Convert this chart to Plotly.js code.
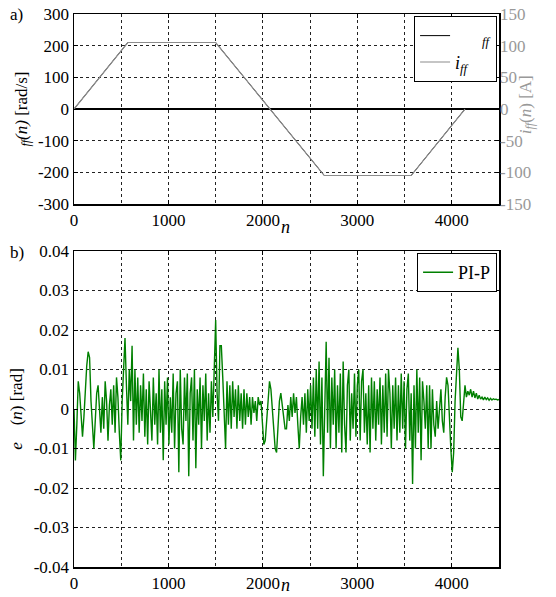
<!DOCTYPE html>
<html>
<head>
<meta charset="utf-8">
<script src="https://cdn.plot.ly/plotly-3.0.1.min.js"></script>
<style>html,body{margin:0;padding:0;background:#fff;}#chart{width:556px;height:597px;}</style>
</head>
<body>
<div id="chart"></div>
<script>
// ---- top panel (a) ----
const n_ref = [0, 570, 1500, 2650, 3570, 4140];
const omega_ff = [0, 210, 210, -210, -210, 0];      // rad/s
const i_ff = [0, 105, 105, -105, -105, 0];           // A

const yLeftTicks = [-300, -200, -100, 0, 100, 200, 300];
const yLeftText = ["-300", "-200", "-100", "0", "100", "200", "300"];
const yRightTicks = [-150, -100, -50, 0, 50, 100, 150];
const yRightText = ["-150", "-100", "-50", "0", "50", "100", "150"];

// ---- bottom panel (b) ----
const e_step = 15;   // samples between listed values
const e_PIP = [
  0.000, -0.013, -0.004, 0.007, 0.004, -0.003, -0.007, -0.002, 0.006, 0.011,
  0.0145, 0.013, 0.002, -0.004, -0.010, -0.003, 0.004, 0.006, -0.002, -0.006,
  0.003, -0.005, 0.007, 0.002, -0.008, 0.001, 0.005, -0.004, 0.006, -0.006,
  0.008, 0.003, -0.006, -0.013, 0.002, 0.009, 0.018, 0.006, -0.004, 0.010,
  0.002, 0.016, -0.008, 0.010, -0.004, 0.008, -0.006, 0.006, -0.003, 0.009,
  -0.007, 0.005, -0.009, 0.007, 0.000, -0.008, 0.008, -0.004, 0.004, -0.009,
  0.010, -0.006, 0.005, -0.013, 0.007, -0.004, 0.008, -0.009, 0.003, -0.006,
  0.009, -0.010, 0.004, 0.007, -0.016, 0.010, -0.005, -0.009, 0.008, -0.003,
  0.009, -0.017, 0.004, 0.008, -0.008, 0.010, -0.015, 0.005, -0.004, 0.008,
  -0.010, 0.006, -0.003, 0.009, -0.008, 0.004, -0.006, 0.007, -0.002, 0.013,
  0.0225, 0.004, -0.003, 0.016, 0.016, 0.008, -0.002, -0.010, 0.007, -0.004,
  0.006, -0.005, 0.007, -0.002, 0.005, -0.005, 0.006, -0.003, 0.004, -0.005,
  0.005, -0.004, 0.004, -0.002, 0.003, -0.004, 0.003, -0.001, 0.002, -0.003,
  0.003, 0.001, 0.002, -0.004, -0.009, -0.008, -0.002, 0.004, 0.007, 0.005,
  0.000, -0.006, -0.010, -0.011, -0.005, 0.002, 0.004, 0.001, -0.003, -0.005,
  -0.005, 0.001, -0.003, 0.003, -0.002, 0.004, -0.001, 0.003, -0.004, -0.010,
  -0.002, 0.003, -0.004, 0.004, -0.006, 0.005, -0.003, 0.006, -0.005, 0.008,
  -0.007, 0.010, -0.005, 0.012, -0.009, 0.008, -0.017, 0.005, 0.017, -0.006,
  0.013, -0.010, 0.008, -0.004, 0.010, -0.010, 0.006, -0.006, 0.009, -0.011,
  0.012, -0.004, -0.011, 0.006, 0.010, -0.008, 0.004, -0.005, 0.009, -0.007,
  0.006, 0.010, -0.008, 0.007, 0.010, -0.006, 0.004, -0.009, 0.006, -0.011,
  0.008, -0.005, 0.007, -0.008, 0.005, -0.004, 0.008, -0.009, 0.006, -0.006,
  0.009, -0.007, 0.010, 0.004, -0.010, 0.006, -0.005, 0.008, -0.008, 0.006,
  -0.006, 0.009, -0.005, 0.007, -0.010, 0.005, 0.009, -0.008, 0.004, -0.019,
  0.006, -0.010, 0.010, -0.006, 0.008, -0.013, 0.007, 0.002, -0.005, 0.006,
  -0.010, 0.006, -0.010, 0.005, -0.004, -0.007, 0.002, -0.005, 0.000, 0.005,
  -0.003, -0.006, 0.003, 0.008, 0.006, -0.003, -0.010, -0.016, -0.011, 0.002,
  0.010, 0.0155, 0.010, -0.002, -0.003, 0.001, 0.006, 0.003, 0.0045, 0.0035,
  0.005, 0.003, 0.0045, 0.0028, 0.004, 0.0025, 0.0035, 0.0025, 0.003, 0.0023,
  0.003, 0.0024, 0.0028, 0.0022, 0.0027, 0.0023, 0.0026, 0.0024, 0.0025, 0.0023,
  0.0024
];
const n_e = e_PIP.map((_, k) => k * e_step);

const yBotTicks = [-0.04, -0.03, -0.02, -0.01, 0, 0.01, 0.02, 0.03, 0.04];
const yBotText = ["-0.04", "-0.03", "-0.02", "-0.01", "0", "0.01", "0.02", "0.03", "0.04"];

const FONT = "Liberation Serif";
const gridCommon = {
  showgrid: true, gridcolor: "#222", griddash: "dot", gridwidth: 1,
  showline: true, linecolor: "#000", linewidth: 1.5, mirror: "ticks",
  ticks: "inside", ticklen: 4, tickcolor: "#000",
  zeroline: false, tickfont: {family: FONT, size: 17, color: "#000"}
};
const xCommon = Object.assign({}, gridCommon, {
  range: [0, 4500], dtick: 1000, tick0: 0,
  minor: {dtick: 500, showgrid: true, gridcolor: "#222", griddash: "dot", gridwidth: 1, ticks: ""}
});

const traces = [
  {x: n_ref, y: omega_ff, xaxis: "x", yaxis: "y", mode: "lines",
   line: {color: "#000", width: 1}, name: "\u2003\u2002<i><sub>ff</sub></i>", legend: "legend"},
  {x: n_ref, y: i_ff, xaxis: "x", yaxis: "y2", mode: "lines",
   line: {color: "#8c8c8c", width: 1.2}, name: "<i>i<sub>ff</sub></i>", legend: "legend"},
  {x: n_e, y: e_PIP, xaxis: "x2", yaxis: "y3", mode: "lines",
   line: {color: "#008000", width: 1.4}, name: "PI-P", legend: "legend2"}
];

const layout = {
  width: 556, height: 597,
  margin: {l: 74, r: 57, t: 14, b: 30},
  paper_bgcolor: "#fff", plot_bgcolor: "#fff",
  font: {family: FONT, size: 17, color: "#000"},
  showlegend: true,
  xaxis: Object.assign({}, xCommon, {domain: [0, 1], anchor: "y"}),
  yaxis: Object.assign({}, gridCommon, {
    domain: [0.6564, 1], range: [-300, 300], tickvals: yLeftTicks, ticktext: yLeftText,
    zeroline: true, zerolinecolor: "#000", zerolinewidth: 1.5, anchor: "x",
    title: {text: "<i><sub>ff</sub>(n)</i> [rad/s]", font: {family: FONT, size: 17}, standoff: 6}
  }),
  yaxis2: {
    overlaying: "y", side: "right", anchor: "x", range: [-150, 150],
    tickvals: yRightTicks, ticktext: yRightText, showgrid: false, zeroline: false,
    showline: false, ticks: "",
    tickfont: {family: FONT, size: 17, color: "#999"}
  },
  xaxis2: Object.assign({}, xCommon, {domain: [0, 1], anchor: "y3"}),
  yaxis3: Object.assign({}, gridCommon, {
    domain: [0, 0.5714], range: [-0.04, 0.04], tickvals: yBotTicks, ticktext: yBotText, anchor: "x2",
    title: {text: "<i>e</i>\u2003(<i>n</i>) [rad]", font: {family: FONT, size: 17}, standoff: 6}
  }),
  legend: {
    x: 0.995, y: 0.996, xanchor: "right", yanchor: "top",
    bgcolor: "#fff", bordercolor: "#000", borderwidth: 1.2,
    font: {family: FONT, size: 18}, tracegroupgap: 0, itemwidth: 30
  },
  legend2: {
    x: 0.995, y: 0.568, xanchor: "right", yanchor: "top",
    bgcolor: "#fff", bordercolor: "#000", borderwidth: 1.2,
    font: {family: FONT, size: 18}, itemwidth: 30
  },
  annotations: [
    {text: "a)", xref: "paper", yref: "paper", x: -0.155, y: 1.0, xanchor: "left", yanchor: "middle",
     showarrow: false, font: {family: FONT, size: 17}},
    {text: "b)", xref: "paper", yref: "paper", x: -0.155, y: 0.5696, xanchor: "left", yanchor: "middle",
     showarrow: false, font: {family: FONT, size: 17}},
    {text: "<i>n</i>", xref: "paper", yref: "paper", x: 0.497, y: 0.615, xanchor: "center", yanchor: "middle",
     showarrow: false, font: {family: FONT, size: 18}},
    {text: "<i>n</i>", xref: "paper", yref: "paper", x: 0.497, y: -0.0542, xanchor: "center", yanchor: "bottom",
     showarrow: false, font: {family: FONT, size: 18}},
    {text: "<i>i<sub>ff</sub></i>(<i>n</i>) [A]", xref: "paper", yref: "paper", x: 1.066, y: 0.835,
     xanchor: "center", yanchor: "middle", textangle: -90, showarrow: false,
     font: {family: FONT, size: 17, color: "#999"}}
  ]
};

Plotly.newPlot("chart", traces, layout, {displayModeBar: false, staticPlot: true});
</script>
</body>
</html>
